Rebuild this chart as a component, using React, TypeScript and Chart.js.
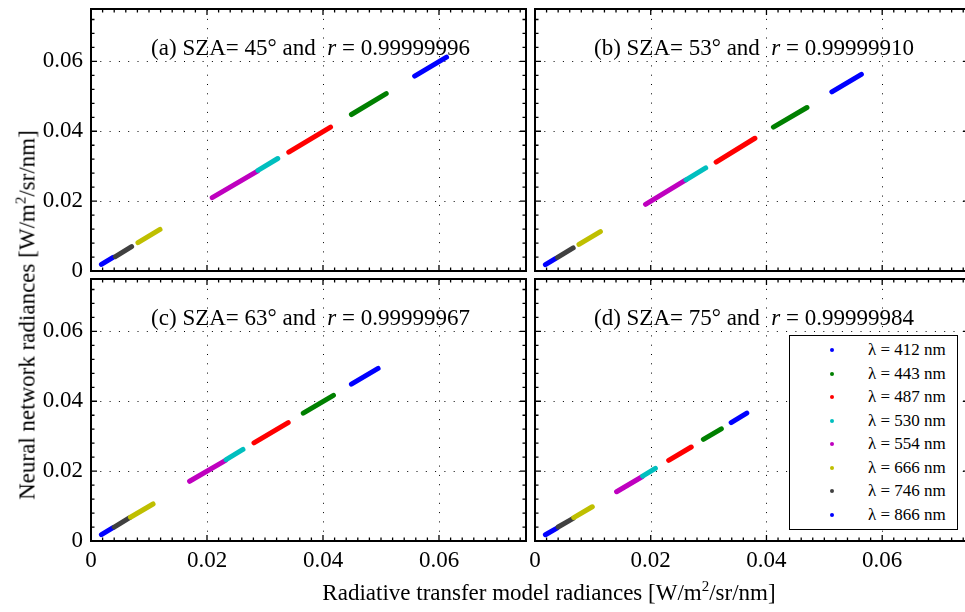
import React, { useEffect, useRef } from 'react';
import { Chart, registerables } from 'chart.js';

Chart.register(...registerables);

// ---------- data ----------
const WAVELENGTHS = [412, 443, 487, 530, 554, 666, 746, 866];
const COLORS = ['#0000ff', '#008000', '#ff0000', '#00bfbf', '#bf00bf', '#bfbf00', '#404040', '#0000ff'];

// each row: [x start, x end, y start, y end] for the wavelength at the same index
const PANEL_A = [
  [0.0558, 0.0613, 0.0558, 0.0612],
  [0.0449, 0.0509, 0.0448, 0.0508],
  [0.0341, 0.0413, 0.0340, 0.0412],
  [0.0288, 0.0322, 0.0288, 0.0322],
  [0.0209, 0.0287, 0.0210, 0.0286],
  [0.0081, 0.0119, 0.0081, 0.0119],
  [0.0042, 0.0070, 0.0041, 0.0070],
  [0.0018, 0.0038, 0.0019, 0.0039],
];
const PANEL_B = [
  [0.0513, 0.0564, 0.0513, 0.0563],
  [0.0412, 0.0470, 0.0412, 0.0468],
  [0.0313, 0.0380, 0.0312, 0.0380],
  [0.0261, 0.0295, 0.0261, 0.0295],
  [0.0191, 0.0260, 0.0191, 0.0260],
  [0.0076, 0.0113, 0.0076, 0.0113],
  [0.0039, 0.0066, 0.0039, 0.0066],
  [0.0018, 0.0036, 0.0018, 0.0036],
];
const PANEL_C = [
  [0.0449, 0.0495, 0.0449, 0.0494],
  [0.0366, 0.0418, 0.0366, 0.0417],
  [0.0281, 0.0340, 0.0281, 0.0339],
  [0.0233, 0.0262, 0.0233, 0.0262],
  [0.0170, 0.0232, 0.0171, 0.0231],
  [0.0068, 0.0107, 0.0068, 0.0106],
  [0.0040, 0.0066, 0.0040, 0.0066],
  [0.0018, 0.0038, 0.0018, 0.0038],
];
const PANEL_D = [
  [0.0339, 0.0366, 0.0339, 0.0366],
  [0.0291, 0.0322, 0.0291, 0.0321],
  [0.0231, 0.0270, 0.0231, 0.0269],
  [0.0186, 0.0208, 0.0186, 0.0208],
  [0.0141, 0.0185, 0.0141, 0.0184],
  [0.0067, 0.0099, 0.0067, 0.0098],
  [0.0040, 0.0066, 0.0040, 0.0065],
  [0.0018, 0.0038, 0.0018, 0.0037],
];
const PANELS = [PANEL_A, PANEL_B, PANEL_C, PANEL_D];

const PANEL_LABELS = ['(a)', '(b)', '(c)', '(d)'];
const SZA = [45, 53, 63, 75];
const R_VALUES = ['0.99999996', '0.99999910', '0.99999967', '0.99999984'];

const X_TICKS = [0, 0.02, 0.04, 0.06];
const Y_TICKS = [0, 0.02, 0.04, 0.06];
const AXIS_MIN = 0;
const AXIS_MAX = 0.075;
const MAJOR_STEP = 0.02;
const X_MINOR_STEP = 0.002;
const Y_MINOR_STEP = 0.004;

const X_TITLE = 'Radiative transfer model radiances [W/m';
const Y_TITLE = 'Neural network radiances [W/m';
const UNIT_TAIL = '/sr/nm]';

// ---------- layout ----------
const FONT = '"Liberation Serif", "Times New Roman", serif';
const PANEL_RECTS = [
  [91, 9, 526, 271],
  [535, 9, 969, 271],
  [91, 279, 526, 541],
  [535, 279, 969, 541],
];
const ML = 91;
const MT = 9;
const MR = 6;
const MB = 50;

const fmt = (v: number) => (Math.abs(v) < 1e-12 ? '0' : Number(v).toFixed(2));

const decorPlugin = {
  id: 'panelDecor',
  beforeDatasetsDraw(chart: any) {
    const { ctx, chartArea, scales } = chart;
    const { left, right, top, bottom } = chartArea;
    ctx.save();
    ctx.strokeStyle = '#000';
    ctx.lineWidth = 1;
    ctx.setLineDash([1, 8.3]);
    X_TICKS.forEach((v) => {
      if (v === AXIS_MIN) return;
      const px = Math.round(scales.x.getPixelForValue(v)) + 0.5;
      ctx.beginPath();
      ctx.moveTo(px, bottom);
      ctx.lineTo(px, top);
      ctx.stroke();
    });
    Y_TICKS.forEach((v) => {
      if (v === AXIS_MIN) return;
      const py = Math.round(scales.y.getPixelForValue(v)) + 0.5;
      ctx.beginPath();
      ctx.moveTo(left, py);
      ctx.lineTo(right, py);
      ctx.stroke();
    });
    ctx.restore();
  },
  afterDraw(chart: any, _args: any, opts: any) {
    const { ctx, chartArea, scales } = chart;
    const { left, right, top, bottom } = chartArea;
    ctx.save();
    ctx.strokeStyle = '#000';
    ctx.lineWidth = 1.3;
    ctx.setLineDash([]);
    const isMajor = (v: number) => Math.abs(v / MAJOR_STEP - Math.round(v / MAJOR_STEP)) < 1e-6;
    const nx = Math.floor((AXIS_MAX - AXIS_MIN) / X_MINOR_STEP + 1e-6);
    for (let i = 0; i <= nx; i++) {
      const v = AXIS_MIN + i * X_MINOR_STEP;
      const len = isMajor(v) ? 6 : 3.5;
      const px = scales.x.getPixelForValue(v);
      ctx.beginPath();
      ctx.moveTo(px, bottom);
      ctx.lineTo(px, bottom - len);
      ctx.moveTo(px, top);
      ctx.lineTo(px, top + len);
      ctx.stroke();
    }
    const ny = Math.floor((AXIS_MAX - AXIS_MIN) / Y_MINOR_STEP + 1e-6);
    for (let i = 0; i <= ny; i++) {
      const v = AXIS_MIN + i * Y_MINOR_STEP;
      const len = isMajor(v) ? 6 : 3.5;
      const py = scales.y.getPixelForValue(v);
      ctx.beginPath();
      ctx.moveTo(left, py);
      ctx.lineTo(left + len, py);
      ctx.moveTo(right, py);
      ctx.lineTo(right - len, py);
      ctx.stroke();
    }
    ctx.lineWidth = 2;
    ctx.strokeRect(left, top, right - left, bottom - top);

    // panel title
    const idx = opts.index;
    const p1 = `${PANEL_LABELS[idx]} SZA= ${SZA[idx]}° and  `;
    const p2 = 'r';
    const p3 = ` = ${R_VALUES[idx]}`;
    const normal = `23px ${FONT}`;
    const italic = `italic 23px ${FONT}`;
    ctx.font = normal;
    const w1 = ctx.measureText(p1).width;
    const w3 = ctx.measureText(p3).width;
    ctx.font = italic;
    const w2 = ctx.measureText(p2).width;
    const total = w1 + w2 + w3;
    let x = (left + right) / 2 + 2 - total / 2;
    const y = top + 46;
    ctx.fillStyle = '#000';
    ctx.textBaseline = 'alphabetic';
    ctx.textAlign = 'left';
    ctx.font = normal;
    ctx.fillText(p1, x, y);
    x += w1;
    ctx.font = italic;
    ctx.fillText(p2, x, y);
    x += w2;
    ctx.font = normal;
    ctx.fillText(p3, x, y);
    ctx.restore();
  },
};

function Panel({ index }: { index: number }) {
  const ref = useRef<HTMLCanvasElement | null>(null);
  const [l, t, r, b] = PANEL_RECTS[index];
  const showY = index === 0 || index === 2;
  const showX = index === 2 || index === 3;
  const width = r - l + ML + MR;
  const height = b - t + MT + MB;

  useEffect(() => {
    if (!ref.current) return;
    const segs = PANELS[index];
    const chart = new Chart(ref.current, {
      type: 'scatter',
      data: {
        datasets: WAVELENGTHS.map((w, i) => ({
          label: `λ = ${w} nm`,
          data: [
            { x: segs[i][0], y: segs[i][2] },
            { x: segs[i][1], y: segs[i][3] },
          ],
          showLine: true,
          borderColor: COLORS[i],
          backgroundColor: COLORS[i],
          borderWidth: 5,
          borderCapStyle: 'round',
          pointRadius: 0,
          pointHoverRadius: 0,
        })),
      },
      options: {
        responsive: false,
        animation: false,
        devicePixelRatio: 1,
        events: [],
        layout: { padding: { top: MT, right: MR, left: 0, bottom: 0 } },
        plugins: {
          legend: { display: false },
          tooltip: { enabled: false },
          panelDecor: { index },
        } as any,
        scales: {
          x: {
            type: 'linear',
            min: AXIS_MIN,
            max: AXIS_MAX,
            afterBuildTicks: (s: any) => {
              s.ticks = X_TICKS.map((value) => ({ value }));
            },
            afterFit: (s: any) => {
              s.height = MB;
              s.paddingLeft = 0;
              s.paddingRight = 0;
              s.paddingTop = 0;
              s.paddingBottom = 0;
            },
            ticks: {
              display: showX,
              color: '#000',
              font: { family: FONT, size: 23 },
              padding: 6,
              maxRotation: 0,
              autoSkip: false,
              callback: (v: any) => fmt(v),
            },
            grid: { display: false, drawTicks: false },
            border: { display: false },
          },
          y: {
            type: 'linear',
            min: AXIS_MIN,
            max: AXIS_MAX,
            afterBuildTicks: (s: any) => {
              s.ticks = Y_TICKS.map((value) => ({ value }));
            },
            afterFit: (s: any) => {
              s.width = ML;
              s.paddingLeft = 0;
              s.paddingRight = 0;
              s.paddingTop = 0;
              s.paddingBottom = 0;
            },
            ticks: {
              display: showY,
              color: '#000',
              font: { family: FONT, size: 23 },
              padding: 8,
              autoSkip: false,
              callback: (v: any) => fmt(v),
            },
            grid: { display: false, drawTicks: false },
            border: { display: false },
          },
        },
      } as any,
      plugins: [decorPlugin],
    });
    return () => chart.destroy();
  }, [index]);

  return (
    <canvas
      ref={ref}
      width={width}
      height={height}
      style={{ position: 'absolute', left: l - ML, top: t - MT, width, height, display: 'block' }}
    />
  );
}

const supStyle: React.CSSProperties = { fontSize: 15, position: 'relative', top: -9, lineHeight: 0 };

export default function App() {
  const legendTop = 335;
  const legendRowStart = 350;
  const legendRowGap = 23.57;
  return (
    <div
      style={{
        position: 'absolute',
        left: 0,
        top: 0,
        width: 965,
        height: 612,
        overflow: 'hidden',
        background: '#fff',
        fontFamily: FONT,
        color: '#000',
      }}
    >
      {[0, 1, 2, 3].map((i) => (
        <Panel key={i} index={i} />
      ))}

      {/* y axis title */}
      <div
        style={{
          position: 'absolute',
          left: 27,
          top: 315,
          transform: 'translate(-50%, -50%) rotate(-90deg)',
          whiteSpace: 'nowrap',
          fontSize: 23,
          lineHeight: '23px',
        }}
      >
        {Y_TITLE}
        <span style={supStyle}>2</span>
        {UNIT_TAIL}
      </div>

      {/* x axis title */}
      <div
        style={{
          position: 'absolute',
          left: 549,
          top: 581,
          transform: 'translateX(-50%)',
          whiteSpace: 'nowrap',
          fontSize: 23,
          lineHeight: '23px',
        }}
      >
        {X_TITLE}
        <span style={supStyle}>2</span>
        {UNIT_TAIL}
      </div>

      {/* legend */}
      <div
        style={{
          position: 'absolute',
          left: 789,
          top: legendTop,
          width: 169,
          height: 195,
          boxSizing: 'border-box',
          border: '1.5px solid #000',
          background: '#fff',
        }}
      />
      {WAVELENGTHS.map((w, i) => {
        const cy = legendRowStart + i * legendRowGap;
        return (
          <React.Fragment key={i}>
            <div
              style={{
                position: 'absolute',
                left: 831.7 - 2,
                top: cy - 2,
                width: 4,
                height: 4,
                borderRadius: '50%',
                background: COLORS[i],
              }}
            />
            <div
              style={{
                position: 'absolute',
                left: 868,
                top: cy - 10,
                height: 20,
                lineHeight: '20px',
                fontSize: 17,
                whiteSpace: 'nowrap',
              }}
            >
              {`λ = ${w} nm`}
            </div>
          </React.Fragment>
        );
      })}
    </div>
  );
}
